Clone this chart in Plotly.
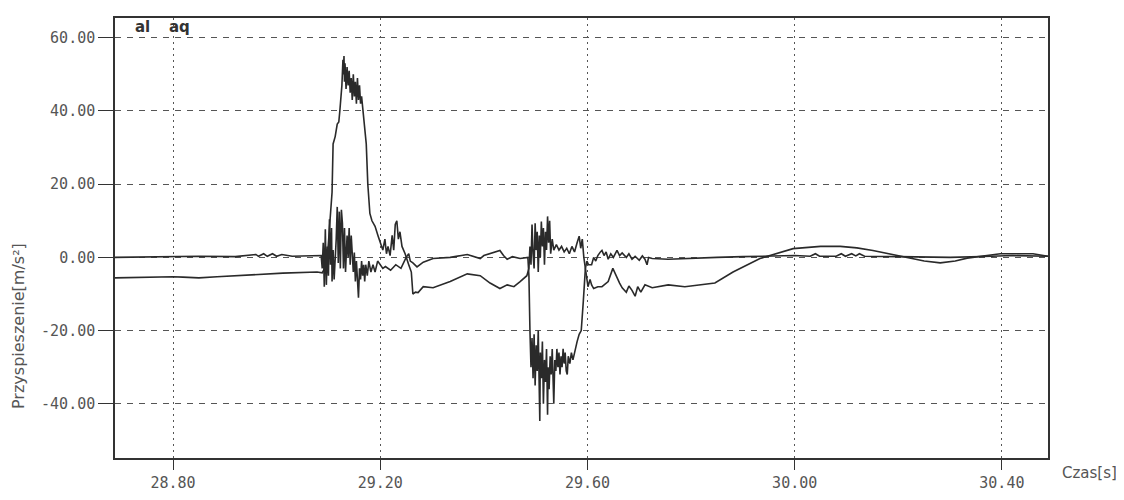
import plotly.graph_objects as go

# ---- data ----
t_al = [28.688, 28.756, 28.800, 28.819, 28.850, 28.885, 28.949, 29.012, 29.078, 29.088,
        29.093, 29.099, 29.103, 29.107, 29.109, 29.113, 29.117, 29.120, 29.122, 29.124,
        29.126, 29.128, 29.129, 29.130, 29.131, 29.132, 29.134, 29.136, 29.138, 29.140,
        29.142, 29.144, 29.146, 29.148, 29.150, 29.152, 29.154, 29.156, 29.158, 29.160,
        29.162, 29.164, 29.167, 29.170, 29.173, 29.176, 29.180, 29.184, 29.190, 29.196,
        29.200, 29.205, 29.209, 29.212, 29.215, 29.219, 29.223, 29.226, 29.229, 29.232,
        29.235, 29.238, 29.242, 29.248, 29.255, 29.260, 29.263, 29.268, 29.273, 29.283,
        29.302, 29.335, 29.368, 29.393, 29.412, 29.431, 29.445, 29.458, 29.470, 29.483,
        29.487, 29.489, 29.491, 29.493, 29.495, 29.497, 29.499, 29.501, 29.503, 29.505,
        29.507, 29.509, 29.511, 29.513, 29.515, 29.517, 29.519, 29.521, 29.523, 29.525,
        29.527, 29.529, 29.532, 29.535, 29.540, 29.545, 29.550, 29.555, 29.560, 29.565,
        29.570, 29.575, 29.580, 29.584, 29.587, 29.590, 29.593, 29.596, 29.599, 29.601,
        29.605, 29.608, 29.612, 29.620, 29.628, 29.640, 29.649, 29.657, 29.662, 29.667,
        29.675, 29.680, 29.686, 29.692, 29.697, 29.703, 29.711, 29.725, 29.756, 29.788,
        29.817, 29.846, 29.881, 29.933, 29.997, 30.050, 30.088, 30.120, 30.151, 30.217,
        30.250, 30.281, 30.310, 30.333, 30.397, 30.460, 30.489]
al = [-5.6, -5.3, -5.3, -5.4, -5.6, -5.3, -4.8, -4.3, -4.0, -4.2,
      -3.0, 2.0, 10.0, 17.8, 31.0, 33.0, 36.4, 37.0, 40.0, 44.0,
      47.0, 54.0, 50.0, 55.0, 48.0, 53.0, 46.0, 52.0, 47.0, 51.0,
      45.0, 49.0, 43.0, 50.0, 44.0, 48.0, 42.0, 49.0, 43.0, 47.0,
      42.0, 44.0, 40.0, 35.0, 31.0, 20.0, 12.0, 10.0, 8.5, 5.8,
      4.0, 2.0, 5.0, 1.0, 3.0, 0.5, 6.0, 2.0, 9.0, 10.0,
      5.0, 7.0, 3.0, 1.0, -2.0, -4.0, -10.0, -9.5, -9.6, -8.0,
      -8.3, -6.6, -4.5, -5.0, -7.0, -8.5, -7.5, -8.0, -6.6, -5.0,
      -3.0, 3.0, -2.0, 9.0, 1.0, -3.0, 9.3, 2.0, 7.0, -4.0,
      6.0, 0.0, 9.8, 3.0, 8.0, -2.0, 7.0, 2.0, 11.2, 4.0,
      10.0, 1.0, 5.0, 2.0, 3.5, 2.0, 3.0, 1.5, 2.5, 1.0,
      3.0, 1.5, 4.0, 5.8, 2.5, 5.0, 0.0, -3.0, -6.0, -8.0,
      -6.0, -7.5, -8.5, -8.0, -8.0, -6.6, -3.0, -5.6, -7.0, -8.3,
      -9.5, -7.8, -9.0, -10.6, -8.0, -9.5, -7.5, -8.3, -7.5, -8.0,
      -7.5, -7.0, -4.0, -0.3, 2.4, 3.0, 3.0, 2.6, 1.9, 0.0,
      -1.0, -1.5, -1.0, -0.2, 1.0, 1.0, 0.3]

t_aq = [28.688, 28.756, 28.850, 28.920, 28.960, 28.965, 28.975, 28.982, 28.992, 29.000,
        29.010, 29.030, 29.080, 29.086, 29.088, 29.090, 29.092, 29.094, 29.096, 29.098,
        29.100, 29.102, 29.104, 29.106, 29.107, 29.109, 29.111, 29.113, 29.115, 29.117,
        29.119, 29.121, 29.123, 29.125, 29.127, 29.129, 29.131, 29.133, 29.136, 29.138,
        29.140, 29.142, 29.144, 29.146, 29.148, 29.150, 29.152, 29.154, 29.156, 29.158,
        29.160, 29.162, 29.164, 29.166, 29.168, 29.170, 29.172, 29.175, 29.178, 29.182,
        29.186, 29.190, 29.195, 29.200, 29.205, 29.210, 29.220, 29.230, 29.240, 29.250,
        29.255, 29.258, 29.263, 29.271, 29.283, 29.302, 29.335, 29.368, 29.393, 29.400,
        29.412, 29.431, 29.438, 29.445, 29.455, 29.470, 29.485, 29.487, 29.489, 29.491,
        29.493, 29.495, 29.497, 29.499, 29.501, 29.503, 29.505, 29.507, 29.508, 29.509,
        29.511, 29.513, 29.515, 29.517, 29.519, 29.521, 29.523, 29.524, 29.526, 29.528,
        29.530, 29.532, 29.535, 29.537, 29.539, 29.541, 29.543, 29.545, 29.547, 29.549,
        29.551, 29.553, 29.555, 29.557, 29.559, 29.561, 29.563, 29.566, 29.569, 29.572,
        29.576, 29.580, 29.584, 29.588, 29.592, 29.596, 29.599, 29.602, 29.608, 29.612,
        29.616, 29.620, 29.625, 29.628, 29.632, 29.636, 29.640, 29.645, 29.650, 29.657,
        29.662, 29.667, 29.675, 29.680, 29.686, 29.692, 29.700, 29.706, 29.711, 29.715,
        29.718, 29.725, 29.756, 29.800, 29.850, 29.900, 29.950, 30.000, 30.030, 30.040,
        30.048, 30.080, 30.090, 30.098, 30.110, 30.118, 30.125, 30.135, 30.200, 30.300,
        30.380, 30.420, 30.489]
aq = [0.0, 0.2, 0.3, 0.2, 0.8, 0.3, 1.0, 0.3, 1.0, 0.3,
      0.8, 0.3, 0.3, 0.5, -3.0, 4.0, -8.0, 7.7, -7.5, 3.0,
      -5.0, 10.4, -2.0, 8.0, -6.6, 2.0, -6.0, -1.0, 5.0, 13.8,
      -1.5, 12.5, -3.0, 13.0, 9.3, -3.0, 8.0, -4.0, 6.0, 0.0,
      8.0, -2.0, 6.0, 1.0, -4.0, 1.3, -6.6, -1.0, -5.0, -11.0,
      -3.0, -6.0, -1.0, -5.0, -2.0, -6.6, -2.0, -5.0, -1.0, -4.0,
      -2.0, -4.0, -1.0, -2.0, -3.0, -2.5, -3.5, -2.0, -3.0, 0.0,
      1.0, -1.0, -1.5, -2.6, -1.3, -0.3, 0.0, 0.8, -0.3, 0.5,
      1.0, 1.9, 0.5, -0.5, 0.2, -0.3, 0.0, -5.0, -20.0, -30.0,
      -22.0, -33.0, -21.0, -35.0, -24.0, -31.0, -20.0, -38.0, -44.7, -26.0,
      -33.0, -23.0, -40.0, -28.0, -34.0, -25.0, -43.0, -30.0, -36.0, -27.0,
      -32.0, -25.0, -40.0, -28.0, -31.0, -25.0, -30.0, -26.0, -32.0, -27.0,
      -30.0, -25.0, -29.0, -26.0, -31.0, -32.0, -27.0, -29.0, -26.0, -28.0,
      -25.0, -23.0, -21.0, -20.0, -12.0, -3.0, -1.0, -2.0, -2.0, 0.0,
      -1.0, 0.5, 1.5, 1.9, 0.5, 1.5, -0.5, 1.0, 0.0, 1.9,
      0.5, 1.2, 0.0, 1.0, -0.5, 0.3, -0.8, 0.4, -0.5, -2.0,
      0.0, -0.3, -0.5, -0.2, 0.0, 0.2, 0.3, 0.5, 0.3, 1.0,
      0.3, 0.3, 1.0, 0.3, 1.0, 0.4, 1.0, 0.3, 0.2, 0.0,
      0.3, 0.5, 0.3]

x_ticks = [28.80, 29.20, 29.60, 30.00, 30.40]
x_labels = ["28.80", "29.20", "29.60", "30.00", "30.40"]
y_ticks = [60, 40, 20, 0, -20, -40]
y_labels = ["60.00", "40.00", "20.00", "0.00", "-20.00", "-40.00"]

line_col = "#2a2a2a"
text_col = "#555555"
grid_col = "#555555"

fig = go.Figure()
fig.add_trace(go.Scatter(x=t_al, y=al, mode="lines", name="al",
                         line=dict(color=line_col, width=1.6)))
fig.add_trace(go.Scatter(x=t_aq, y=aq, mode="lines", name="aq",
                         line=dict(color=line_col, width=1.6)))

# the page body adds an 8px offset, so the figure is 8px smaller and margins shifted
fig.update_layout(
    width=1116, height=492,
    margin=dict(l=107, r=76, t=8, b=32),
    paper_bgcolor="white", plot_bgcolor="white",
    showlegend=False,
    font=dict(family="DejaVu Sans Mono", size=15, color=text_col),
)
fig.update_xaxes(
    range=[28.688, 30.489], tickvals=x_ticks, ticktext=x_labels,
    showgrid=True, gridcolor=grid_col, gridwidth=1, griddash="2px,4px",
    showline=True, linecolor="#333333", linewidth=1.5, mirror=True,
    ticks="outside", ticklen=10, tickcolor="#333333", zeroline=False,
)
fig.update_yaxes(
    range=[-54.8, 65.4], tickvals=y_ticks, ticktext=y_labels,
    showgrid=True, gridcolor=grid_col, gridwidth=1, griddash="6px,6px",
    showline=True, linecolor="#333333", linewidth=1.5, mirror=True,
    ticks="outside", ticklen=15, tickcolor="#333333", zeroline=False,
)

fig.add_annotation(text="<b>al</b>", xref="paper", yref="paper", x=0.019, y=1.005,
                   xanchor="left", yanchor="top", showarrow=False,
                   font=dict(family="DejaVu Sans", size=15, color="#333333"))
fig.add_annotation(text="<b>aq</b>", xref="paper", yref="paper", x=0.056, y=1.005,
                   xanchor="left", yanchor="top", showarrow=False,
                   font=dict(family="DejaVu Sans", size=15, color="#333333"))
fig.add_annotation(text="Przyspieszenie[m/s²]", xref="paper", yref="paper",
                   x=0, xshift=-97, y=0.30, xanchor="center", yanchor="middle",
                   textangle=-90, showarrow=False,
                   font=dict(family="DejaVu Sans", size=16, color=text_col))
fig.add_annotation(text="Czas[s]", xref="paper", yref="paper", x=1.0, xshift=12,
                   y=0, yshift=-15, xanchor="left", yanchor="middle", showarrow=False,
                   font=dict(family="DejaVu Sans", size=15, color=text_col))

fig.write_html("out.html")
